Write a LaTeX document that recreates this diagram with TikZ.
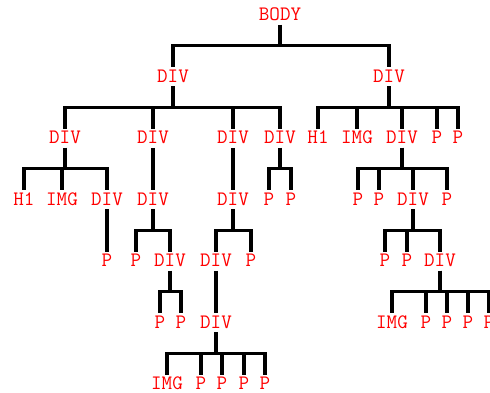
\documentclass[tikz,border=0pt]{standalone}
\tikzset{
  tag/.style={anchor=base,inner sep=0pt,outer sep=0pt,text=red,
    font=\ttfamily\fontsize{20.5}{20.5}\selectfont,text height=14.75pt,text depth=4.25pt},
  leaf/.style={tag,text depth=0pt},
  conn/.style={draw=black,line width=3.3pt},
}
\begin{document}
\begin{tikzpicture}[x=1pt,y=-1pt]
\useasboundingbox (0,0) rectangle (490,392);
\clip (0,0) rectangle (490,392);
% level baselines: 20.5, 82, 143.5, 205, 266.5, 328, 389.5
\node[tag] (n) at (280,20.5) {BODY};
\node[tag] (a) at (173,82) {DIV};
\node[tag] (b) at (389,82) {DIV};
% level 2
\node[tag] (aa) at (65,143.5) {DIV};
\node[tag] (ab) at (153,143.5) {DIV};
\node[tag] (ac) at (233,143.5) {DIV};
\node[tag] (ad) at (280,143.5) {DIV};
\node[tag] (ba) at (318,143.5) {H1};
\node[tag] (bb) at (357,143.5) {IMG};
\node[tag] (bc) at (402,143.5) {DIV};
\node[tag] (bd) at (437,143.5) {P};
\node[tag] (be) at (458,143.5) {P};
% level 3
\node[tag] (aaa) at (24,205) {H1};
\node[tag] (aab) at (62,205) {IMG};
\node[tag] (aac) at (107,205) {DIV};
\node[tag] (aba) at (153,205) {DIV};
\node[tag] (aca) at (233,205) {DIV};
\node[tag] (ada) at (269,205) {P};
\node[tag] (adb) at (291,205) {P};
\node[tag] (bca) at (358,205) {P};
\node[tag] (bcb) at (379,205) {P};
\node[tag] (bcc) at (413,205) {DIV};
\node[tag] (bcd) at (447,205) {P};
% level 4
\node[tag] (aaca) at (107,266.5) {P};
\node[tag] (abaa) at (136,266.5) {P};
\node[tag] (abab) at (170,266.5) {DIV};
\node[tag] (acaa) at (216,266.5) {DIV};
\node[tag] (acab) at (251,266.5) {P};
\node[tag] (bcca) at (385,266.5) {P};
\node[tag] (bccb) at (407,266.5) {P};
\node[tag] (bccc) at (440,266.5) {DIV};
% level 5
\node[tag] (ababa) at (160,328) {P};
\node[tag] (ababb) at (181,328) {P};
\node[tag] (acaaa) at (216,328) {DIV};
\node[tag] (bccca) at (392,328) {IMG};
\node[tag] (bcccb) at (426,328) {P};
\node[tag] (bcccc) at (447,328) {P};
\node[tag] (bcccd) at (468,328) {P};
\node[tag] (bccce) at (489,328) {P};
% level 6
\node[leaf] (x1) at (167,389.5) {IMG};
\node[leaf] (x2) at (201,389.5) {P};
\node[leaf] (x3) at (222,389.5) {P};
\node[leaf] (x4) at (244,389.5) {P};
\node[leaf] (x5) at (265,389.5) {P};
% connectors
\foreach \p/\cl in {n/{a,b},
  a/{aa,ab,ac,ad}, b/{ba,bb,bc,bd,be},
  aa/{aaa,aab,aac}, ab/{aba}, ac/{aca}, ad/{ada,adb},
  bc/{bca,bcb,bcc,bcd},
  aac/{aaca}, aba/{abaa,abab}, aca/{acaa,acab}, bcc/{bcca,bccb,bccc},
  abab/{ababa,ababb}, acaa/{acaaa}, bccc/{bccca,bcccb,bcccc,bcccd,bccce},
  acaaa/{x1,x2,x3,x4,x5}}{
  \foreach \c in \cl {
    \draw[conn] (\p.south) -- ++(0,21) -| (\c.north);
  }
}
\end{tikzpicture}
\end{document}
